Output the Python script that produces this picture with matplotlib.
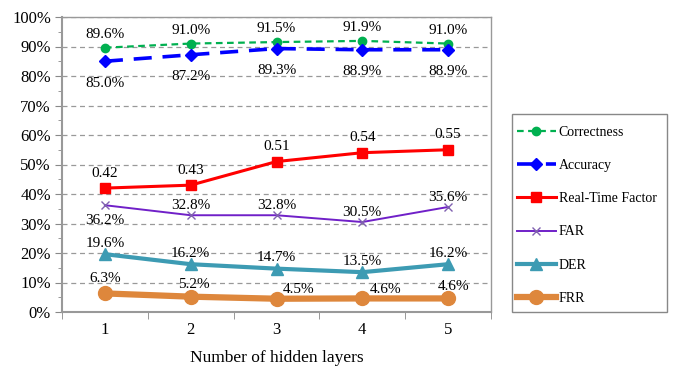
import matplotlib
matplotlib.use("Agg")
import matplotlib.pyplot as plt
from matplotlib.patches import Rectangle
from matplotlib.ticker import FixedLocator, PercentFormatter, MultipleLocator

layers = [1, 2, 3, 4, 5]
correctness = [89.6, 91.0, 91.5, 91.9, 91.0]
accuracy = [85.0, 87.2, 89.3, 88.9, 88.9]
rtf = [0.42, 0.43, 0.51, 0.54, 0.55]
far = [36.2, 32.8, 32.8, 30.5, 35.6]
der = [19.6, 16.2, 14.7, 13.5, 16.2]
frr = [6.3, 5.2, 4.5, 4.6, 4.6]

plt.rcParams['font.family'] = ['Liberation Serif', 'DejaVu Serif']

W, H = 674, 368
fig = plt.figure(figsize=(W/100, H/100), dpi=100)
ax = fig.add_axes([62/W, 56/H, (491-62)/W, (312-17)/H])

c_green = '#00B050'
c_blue = '#0000FF'
c_red = '#FF0000'
c_purple = '#7020C8'
c_teal = '#3D9BB3'
c_orange = '#DE873C'

rtf_pct = [v * 100 for v in rtf]

ax.plot(layers, correctness, color=c_green, lw=1.6, ls=(0, (3, 2)), marker='o', ms=6, label='Correctness', zorder=5)
ax.plot(layers, accuracy, color=c_blue, lw=2.6, ls=(0, (5, 3)), marker='D', ms=6, label='Accuracy', zorder=5)
ax.plot(layers, rtf_pct, color=c_red, lw=2.2, marker='s', ms=6.5, label='Real-Time Factor', zorder=5)
ax.plot(layers, far, color=c_purple, lw=1.4, marker='x', ms=6, mew=1.0, mec='#8060B0', label='FAR', zorder=5)
ax.plot(layers, der, color=c_teal, lw=3.0, marker='^', ms=8, label='DER', zorder=5)
ax.plot(layers, frr, color=c_orange, lw=4.5, marker='o', ms=10, label='FRR', zorder=5)

fs = 11
for x, v in zip(layers, correctness):
    ax.annotate(f'{v:.1f}%', (x, v), xytext=(0, 5), textcoords='offset points', ha='center', va='bottom', fontsize=fs)
for x, v in zip(layers, accuracy):
    ax.annotate(f'{v:.1f}%', (x, v), xytext=(0, -11), textcoords='offset points', ha='center', va='top', fontsize=fs)
for x, v, p in zip(layers, rtf, rtf_pct):
    ax.annotate(f'{v:.2f}', (x, p), xytext=(0, 6), textcoords='offset points', ha='center', va='bottom', fontsize=fs)
for i, (x, v) in enumerate(zip(layers, far)):
    if i == 0:
        ax.annotate(f'{v:.1f}%', (x, v), xytext=(0, -6), textcoords='offset points', ha='center', va='top', fontsize=fs)
    else:
        ax.annotate(f'{v:.1f}%', (x, v), xytext=(0, 2), textcoords='offset points', ha='center', va='bottom', fontsize=fs)
for x, v in zip(layers, der):
    ax.annotate(f'{v:.1f}%', (x, v), xytext=(0, 3), textcoords='offset points', ha='center', va='bottom', fontsize=fs)
frr_dx = [0, 2, 16, 17, 4]
frr_dy = [6, 4, 2, 2, 4]
for x, v, dx, dy in zip(layers, frr, frr_dx, frr_dy):
    ax.annotate(f'{v:.1f}%', (x, v), xytext=(dx, dy), textcoords='offset points', ha='center', va='bottom', fontsize=fs)

ax.set_xlim(0.5, 5.5)
ax.set_ylim(0, 100)
ax.set_xticks(layers)
ax.set_xticklabels([str(l) for l in layers], fontsize=12)
ax.xaxis.set_minor_locator(FixedLocator([0.5, 1.5, 2.5, 3.5, 4.5, 5.5]))
ax.tick_params(axis='x', which='major', length=0, pad=7)
ax.tick_params(axis='x', which='minor', length=5, color='#888888', direction='out')
ax.yaxis.set_major_locator(MultipleLocator(10))
ax.yaxis.set_minor_locator(MultipleLocator(5))
ax.yaxis.set_major_formatter(PercentFormatter(decimals=0))
ax.tick_params(axis='y', which='major', length=5, color='#888888', labelsize=12, pad=3)
ax.tick_params(axis='y', which='minor', length=3, color='#888888')
ax.grid(axis='y', which='major', color='#999999', ls=(0, (4, 3)), lw=0.9)
ax.set_axisbelow(True)
for s in ax.spines.values():
    s.set_color('#999999')
    s.set_linewidth(1.0)
ax.spines['left'].set_linewidth(1.5)
ax.spines['bottom'].set_linewidth(1.5)

ax.set_xlabel('Number of hidden layers', fontsize=12.5, labelpad=9)

# legend box frame
fig.patches.append(Rectangle((512/W, 1 - 312/H), (667-512)/W, (312-114)/H,
                             transform=fig.transFigure, fill=False,
                             edgecolor='#888888', lw=1.0))
leg = fig.legend(loc='upper left', bbox_to_anchor=(517/W, 1 - 126/H), fontsize=10,
                 frameon=False, handlelength=2.8,
                 labelspacing=1.45, borderpad=0.0, handletextpad=0.2, borderaxespad=0)

fig.savefig('out.png', dpi=100)
